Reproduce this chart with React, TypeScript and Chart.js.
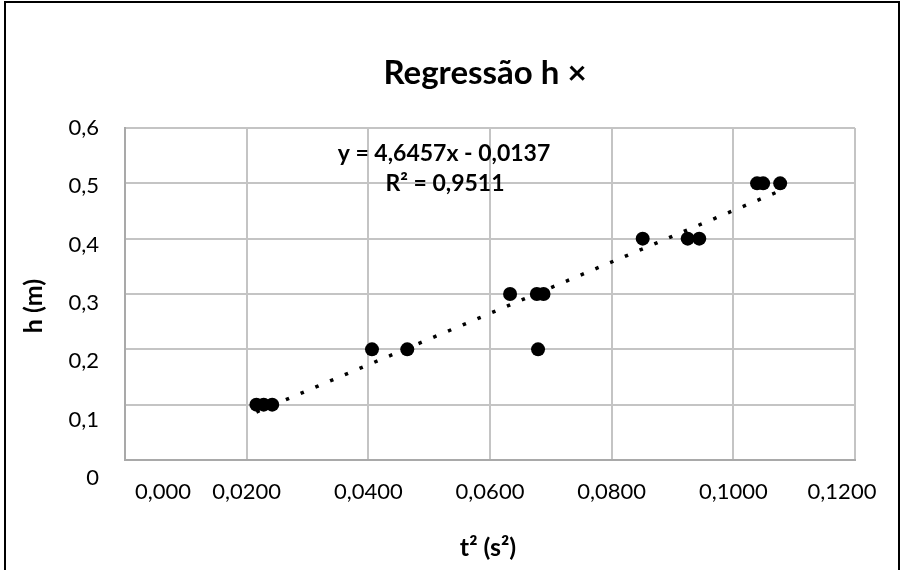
import React, { useEffect, useRef } from "react";
import { Chart, registerables } from "chart.js";

Chart.register(...registerables);

// t² (s²) values
const tSquared = [
  0.0216, 0.0228, 0.0242,
  0.0406, 0.0464, 0.0679,
  0.0633, 0.0677, 0.0688,
  0.0851, 0.0925, 0.0944,
  0.1039, 0.1049, 0.1077,
];
// h (m) values
const heights = [
  0.1, 0.1, 0.1,
  0.2, 0.2, 0.2,
  0.3, 0.3, 0.3,
  0.4, 0.4, 0.4,
  0.5, 0.5, 0.5,
];
// linear trendline endpoints (y = 4,6457x - 0,0137)
const trendX = [0.0216, 0.1077];
const trendY = [0.0866, 0.4866];

const xTickValues = [0, 0.02, 0.04, 0.06, 0.08, 0.1, 0.12];
const xTickLabels = ["0,000", "0,0200", "0,0400", "0,0600", "0,0800", "0,1000", "0,1200"];
const yTickValues = [0, 0.1, 0.2, 0.3, 0.4, 0.5, 0.6];
const yTickLabels = ["0", "0,1", "0,2", "0,3", "0,4", "0,5", "0,6"];

const titleText = "Regressão h ×";
const xTitle = "t² (s²)";
const yTitle = "h (m)";
const eqLine1 = "y = 4,6457x - 0,0137";
const eqLine2 = "R² = 0,9511";

const FONT = "Lato, 'Open Sans', sans-serif";

const decorPlugin = {
  id: "decor",
  afterDraw(chart: any) {
    const ctx = chart.ctx as CanvasRenderingContext2D;
    const { left, right, top, bottom } = chart.chartArea;
    const xs = chart.scales.x;
    const ys = chart.scales.y;
    ctx.save();
    ctx.fillStyle = "#000";

    // outer border
    ctx.strokeStyle = "#000";
    ctx.lineWidth = 2;
    ctx.strokeRect(5, 2, 894, 620);

    // x tick labels
    ctx.font = `22px ${FONT}`;
    ctx.textBaseline = "middle";
    xTickValues.forEach((v, i) => {
      let px = xs.getPixelForValue(v);
      ctx.textAlign = "center";
      if (i === 0) {
        ctx.textAlign = "left";
        px = left + 10;
      } else if (i === xTickValues.length - 1) {
        px = px - 13;
      }
      ctx.fillText(xTickLabels[i], px, bottom + 32);
    });

    // y tick labels
    ctx.textAlign = "right";
    const stretch = (bottom + 18 - top) / (bottom - top);
    yTickValues.forEach((v, i) => {
      const py = ys.getPixelForValue(v);
      const ly = top + (py - top) * stretch;
      ctx.fillText(yTickLabels[i], left - 26, ly);
    });

    // title
    ctx.font = `bold 33px ${FONT}`;
    ctx.textAlign = "center";
    ctx.textBaseline = "alphabetic";
    ctx.fillText(titleText, (left + right) / 2 - 5, 84);

    // axis titles
    ctx.font = `bold 25px ${FONT}`;
    ctx.textBaseline = "middle";
    ctx.fillText(xTitle, (left + right) / 2 - 2, bottom + 88);
    ctx.save();
    ctx.translate(left - 91, (top + bottom) / 2 + 12);
    ctx.rotate(-Math.PI / 2);
    ctx.fillText(yTitle, 0, 0);
    ctx.restore();

    // equation label
    ctx.font = `bold 23px ${FONT}`;
    ctx.textAlign = "center";
    ctx.fillText(eqLine1, left + 319, top + 26);
    ctx.fillText(eqLine2, left + 320, top + 56);

    ctx.restore();
  },
};

export default function App() {
  const ref = useRef<HTMLCanvasElement | null>(null);

  useEffect(() => {
    if (!ref.current) return;
    const chart = new Chart(ref.current, {
      type: "scatter",
      data: {
        datasets: [
          {
            label: "Trend",
            type: "line",
            data: trendX.map((x, i) => ({ x, y: trendY[i] })),
            borderColor: "#000",
            borderWidth: 3.5,
            borderDash: [3.5, 12.5],
            borderCapStyle: "butt",
            pointRadius: 0,
            fill: false,
            order: 2,
          } as any,
          {
            label: "h",
            data: tSquared.map((x, i) => ({ x, y: heights[i] })),
            backgroundColor: "#000",
            borderColor: "#000",
            pointRadius: 7,
            pointBorderWidth: 0,
            order: 1,
          },
        ],
      },
      options: {
        responsive: false,
        animation: false,
        events: [],
        layout: { padding: { left: 125, right: 48, top: 128, bottom: 110 } },
        plugins: {
          legend: { display: false },
          title: { display: false },
          tooltip: { enabled: false },
        },
        scales: {
          x: {
            type: "linear",
            min: 0,
            max: 0.12,
            afterBuildTicks: (scale: any) => {
              scale.ticks = xTickValues.map((v) => ({ value: v }));
            },
            ticks: { display: false },
            grid: { color: "#c4c4c4", lineWidth: 2, drawTicks: false },
            border: { color: "#a9a9a9", width: 2 },
            title: { display: false },
          },
          y: {
            type: "linear",
            min: 0,
            max: 0.6,
            afterBuildTicks: (scale: any) => {
              scale.ticks = yTickValues.map((v) => ({ value: v }));
            },
            ticks: { display: false },
            grid: { color: "#c4c4c4", lineWidth: 2, drawTicks: false },
            border: { color: "#a9a9a9", width: 2 },
            title: { display: false },
          },
        },
      },
      plugins: [decorPlugin],
    });
    return () => chart.destroy();
  }, []);

  return (
    <div style={{ position: "fixed", left: 0, top: 0, width: 903, height: 570, background: "#fff" }}>
      <canvas ref={ref} width={903} height={570} style={{ display: "block" }} />
    </div>
  );
}
